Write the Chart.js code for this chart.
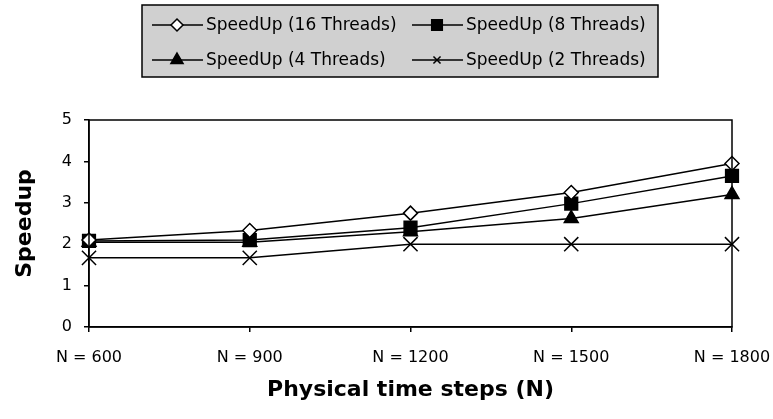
<!DOCTYPE html>
<html>
<head>
<meta charset="utf-8">
<script src="https://cdn.jsdelivr.net/npm/chart.js@4.4.0/dist/chart.umd.min.js"></script>
<style>
  html, body { margin: 0; padding: 0; background: #fff; }
  #wrap { width: 773px; height: 419px; }
</style>
</head>
<body>
<div id="wrap"><canvas id="speedChart" width="773" height="419"></canvas></div>
<script>
// Data
const categories = ['N = 600', 'N = 900', 'N = 1200', 'N = 1500', 'N = 1800'];
const speedup16 = [2.10, 2.33, 2.75, 3.25, 3.95];
const speedup8 = [2.08, 2.10, 2.40, 2.98, 3.65];
const speedup4 = [2.05, 2.05, 2.30, 2.62, 3.20];
const speedup2 = [1.67, 1.67, 2.00, 2.00, 2.00];
const yTicks = [0, 1, 2, 3, 4, 5];

const FONT = '"DejaVu Sans", Verdana, sans-serif';

function series(label, data, style, radius, fill, legendRadius) {
    return {
        label: label,
        data: data,
        borderColor: '#000',
        borderWidth: 1.5,
        pointStyle: style,
        pointRadius: radius,
        pointHoverRadius: radius,
        pointBackgroundColor: fill,
        pointBorderColor: '#000',
        pointBorderWidth: 1.5,
        legendRadius: legendRadius,
        tension: 0,
        fill: false
    };
}

// Boxed two-row legend, drawn on the canvas
const boxLegend = {
    id: 'boxLegend',
    afterDraw(chart) {
        const ctx = chart.ctx;
        const bx = 142, by = 5, bw = 516, bh = 72;
        ctx.save();
        ctx.fillStyle = '#d0d0d0';
        ctx.fillRect(bx, by, bw, bh);
        ctx.strokeStyle = '#000';
        ctx.lineWidth = 1.5;
        ctx.strokeRect(bx, by, bw, bh);
        const slots = [[152, 25], [412, 25], [152, 60], [412, 60]];
        ctx.font = '17px ' + FONT;
        ctx.textBaseline = 'middle';
        chart.data.datasets.forEach((ds, i) => {
            const [x, y] = slots[i];
            ctx.strokeStyle = '#000';
            ctx.lineWidth = 1.5;
            ctx.beginPath();
            ctx.moveTo(x, y);
            ctx.lineTo(x + 51, y);
            ctx.stroke();
            ctx.fillStyle = ds.pointBackgroundColor;
            Chart.helpers.drawPoint(ctx, {
                pointStyle: ds.pointStyle,
                radius: ds.legendRadius,
                rotation: 0,
                borderWidth: 1.5
            }, x + 25, y);
            ctx.fillStyle = '#000';
            ctx.textAlign = 'left';
            ctx.fillText(ds.label, x + 54, y + 1);
        });
        ctx.restore();
    }
};

// Full box around the plot area
const plotFrame = {
    id: 'plotFrame',
    afterDatasetsDraw(chart) {
        const a = chart.chartArea;
        const ctx = chart.ctx;
        ctx.save();
        ctx.strokeStyle = '#000';
        ctx.lineWidth = 1.5;
        ctx.strokeRect(a.left, a.top, a.right - a.left, a.bottom - a.top);
        ctx.restore();
    }
};

new Chart(document.getElementById('speedChart').getContext('2d'), {
    type: 'line',
    data: {
        labels: categories,
        datasets: [
            series('SpeedUp (16 Threads)', speedup16, 'rectRot', 7, '#fff', 6),
            series('SpeedUp (8 Threads)', speedup8, 'rect', 9, '#000', 7.5),
            series('SpeedUp (4 Threads)', speedup4, 'triangle', 8, '#000', 7),
            series('SpeedUp (2 Threads)', speedup2, 'crossRot', 10, '#000', 5)
        ]
    },
    options: {
        responsive: false,
        animation: false,
        layout: { padding: { top: 120, right: 41, left: 0, bottom: 0 } },
        plugins: {
            legend: { display: false },
            tooltip: { enabled: false }
        },
        scales: {
            x: {
                offset: false,
                afterFit(scale) {
                    scale.height = 92;
                    scale.paddingLeft = 0;
                    scale.paddingRight = 0;
                },
                grid: { drawOnChartArea: false, drawTicks: true, tickLength: 5, color: '#000', lineWidth: 1.5 },
                border: { color: '#000', width: 1.5 },
                ticks: { color: '#000', font: { family: FONT, size: 16 }, maxRotation: 0, padding: 16 },
                title: {
                    display: true,
                    text: 'Physical time steps (N)',
                    color: '#000',
                    font: { family: FONT, size: 22, weight: 'bold' },
                    padding: { top: 4, bottom: 16 }
                }
            },
            y: {
                min: 0,
                max: 5,
                afterFit(scale) {
                    scale.width = 89;
                    scale.paddingTop = 0;
                    scale.paddingBottom = 0;
                },
                afterBuildTicks(scale) { scale.ticks = yTicks.map(v => ({ value: v })); },
                grid: { drawOnChartArea: false, drawTicks: true, tickLength: 5, color: '#000', lineWidth: 1.5 },
                border: { color: '#000', width: 1.5 },
                ticks: { color: '#000', font: { family: FONT, size: 16 }, padding: 12 },
                title: {
                    display: true,
                    text: 'Speedup',
                    color: '#000',
                    font: { family: FONT, size: 22, weight: 'bold' },
                    padding: { top: 12, bottom: 0 }
                }
            }
        }
    },
    plugins: [boxLegend, plotFrame]
});
</script>
</body>
</html>
